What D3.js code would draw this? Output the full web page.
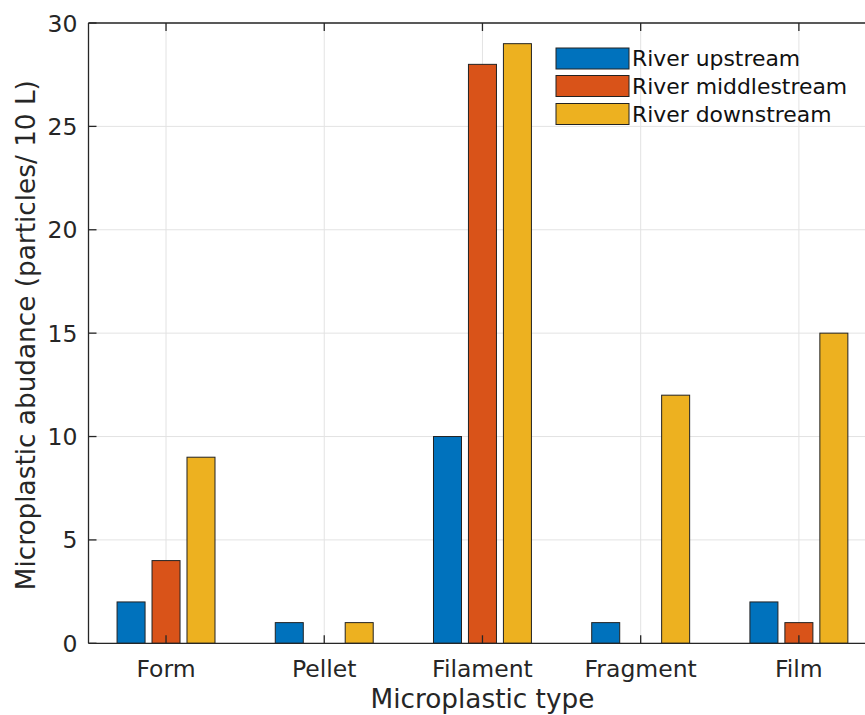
<!DOCTYPE html>
<html>
<head>
<meta charset="utf-8">
<script src="https://cdn.jsdelivr.net/npm/d3@7"></script>
<style>
  html, body { margin: 0; padding: 0; background: #fff; }
  svg { display: block; font-family: "DejaVu Sans", sans-serif; }
</style>
</head>
<body>
<svg id="chart" width="865" height="715"></svg>
<script>
const categories = ["Form", "Pellet", "Filament", "Fragment", "Film"];
const seriesNames = ["River upstream", "River middlestream", "River downstream"];
const upstream = [2, 1, 10, 1, 2];
const middlestream = [4, 0, 28, 0, 1];
const downstream = [9, 1, 29, 12, 15];
const yTicks = [0, 5, 10, 15, 20, 25, 30];
const colors = ["#0072BD", "#D95319", "#EDB120"];

const series = [upstream, middlestream, downstream];

(function () {
const svg = d3.select("#chart");
const pLeft = 88.5, pTop = 23, pBottom = 643.3, pRight = 878;

const x = d3.scaleLinear().domain([0.51, 5.5]).range([pLeft, pRight]);
const y = d3.scaleLinear().domain([0, 30]).range([pBottom, pTop]);

const axisColor = "#262626";
const gridColor = "#e3e3e3";

const barW = 0.177;   // in category units
const offset = 0.221; // group offset in category units

// Grid
const g = svg.append("g");
g.selectAll("line.hgrid").data(yTicks).enter().append("line")
  .attr("x1", pLeft).attr("x2", pRight)
  .attr("y1", d => y(d)).attr("y2", d => y(d))
  .attr("stroke", gridColor).attr("stroke-width", 1);
g.selectAll("line.vgrid").data(categories).enter().append("line")
  .attr("x1", (d, i) => x(i + 1)).attr("x2", (d, i) => x(i + 1))
  .attr("y1", pTop).attr("y2", pBottom)
  .attr("stroke", gridColor).attr("stroke-width", 1);

// Bars
const barData = [];
series.forEach((s, si) => {
  s.forEach((v, ci) => {
    if (v > 0) barData.push({ si, ci, v });
  });
});
svg.append("g").selectAll("rect").data(barData).enter().append("rect")
  .attr("x", d => x(d.ci + 1 + (d.si - 1) * offset - barW / 2))
  .attr("width", d => x(d.ci + 1 + barW / 2) - x(d.ci + 1 - barW / 2))
  .attr("y", d => y(d.v))
  .attr("height", d => y(0) - y(d.v))
  .attr("fill", d => colors[d.si])
  .attr("stroke", "#222")
  .attr("stroke-width", 1);

// Axes lines
svg.append("line").attr("x1", pLeft).attr("x2", pLeft).attr("y1", pTop).attr("y2", pBottom)
  .attr("stroke", axisColor).attr("stroke-width", 1.3);
svg.append("line").attr("x1", pLeft).attr("x2", 865).attr("y1", pBottom).attr("y2", pBottom)
  .attr("stroke", axisColor).attr("stroke-width", 1.3);
svg.append("line").attr("x1", pLeft).attr("x2", 865).attr("y1", pTop).attr("y2", pTop)
  .attr("stroke", axisColor).attr("stroke-width", 1.3);

// Ticks (inward)
const tickLen = 8;
svg.append("g").selectAll("line").data(yTicks).enter().append("line")
  .attr("x1", pLeft).attr("x2", pLeft + tickLen)
  .attr("y1", d => y(d)).attr("y2", d => y(d))
  .attr("stroke", axisColor).attr("stroke-width", 1.3);
svg.append("g").selectAll("line").data(categories).enter().append("line")
  .attr("x1", (d, i) => x(i + 1)).attr("x2", (d, i) => x(i + 1))
  .attr("y1", pBottom).attr("y2", pBottom - tickLen)
  .attr("stroke", axisColor).attr("stroke-width", 1.3);
svg.append("g").selectAll("line").data(categories).enter().append("line")
  .attr("x1", (d, i) => x(i + 1)).attr("x2", (d, i) => x(i + 1))
  .attr("y1", pTop).attr("y2", pTop + tickLen)
  .attr("stroke", axisColor).attr("stroke-width", 1.3);

// Tick labels
svg.append("g").selectAll("text").data(yTicks).enter().append("text")
  .attr("x", pLeft - 11).attr("y", d => y(d) + 8.5)
  .attr("text-anchor", "end")
  .attr("font-size", 23.5).attr("fill", axisColor)
  .text(d => d);
svg.append("g").selectAll("text").data(categories).enter().append("text")
  .attr("x", (d, i) => x(i + 1)).attr("y", 677)
  .attr("text-anchor", "middle")
  .attr("font-size", 23.5).attr("fill", axisColor)
  .text(d => d);

// Axis labels
svg.append("text")
  .attr("x", x(3)).attr("y", 708)
  .attr("text-anchor", "middle")
  .attr("font-size", 26.3).attr("fill", axisColor)
  .text("Microplastic type");
svg.append("text")
  .attr("transform", `translate(35, ${(pTop + pBottom) / 2 + 2}) rotate(-90)`)
  .attr("text-anchor", "middle")
  .attr("font-size", 26.3).attr("fill", axisColor)
  .text("Microplastic abudance (particles/ 10 L)");

// Legend
const leg = svg.append("g");
const rowY = [48, 75.5, 103.5];
seriesNames.forEach((name, i) => {
  leg.append("rect")
    .attr("x", 556).attr("y", rowY[i])
    .attr("width", 73).attr("height", 21)
    .attr("fill", colors[i]).attr("stroke", "#222").attr("stroke-width", 1);
  leg.append("text")
    .attr("x", 632).attr("y", rowY[i] + 18)
    .attr("font-size", 21.9).attr("fill", "#111")
    .text(name);
});
})();
</script>
</body>
</html>
